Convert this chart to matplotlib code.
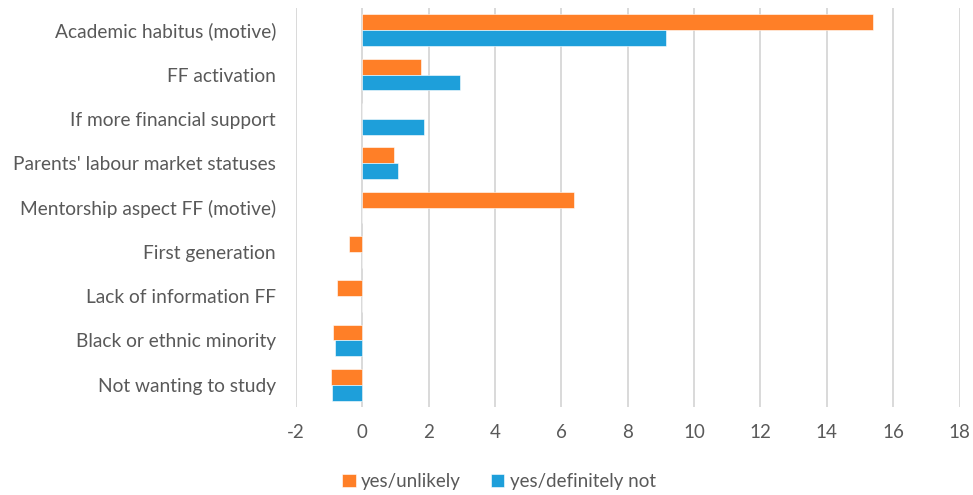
import numpy as np
import matplotlib
matplotlib.use("Agg")
import matplotlib.pyplot as plt

categories = [
    "Academic habitus (motive)",
    "FF activation",
    "If more financial support",
    "Parents' labour market statuses",
    "Mentorship aspect FF (motive)",
    "First generation",
    "Lack of information FF",
    "Black or ethnic minority",
    "Not wanting to study",
]
unlikely = [15.38, 1.76, 0.0, 0.95, 6.39, -0.39, -0.76, -0.87, -0.93]
definitely_not = [9.15, 2.93, 1.87, 1.06, 0.0, 0.0, 0.0, -0.83, -0.92]
xticks = list(range(-2, 19, 2))

ORANGE = "#FF7F27"
BLUE = "#1E9FDA"
TEXT = "#595959"

plt.rcParams["font.family"] = ["Lato", "DejaVu Sans"]

fig = plt.figure(figsize=(9.73, 4.95), dpi=100)
ax = fig.add_axes([0.3042, 0.1778, 0.6820, 0.8060])

y = np.arange(len(categories))
h = 0.36
ax.barh(y - h / 2, unlikely, height=h, color=ORANGE, edgecolor="white",
        linewidth=0.4, label="yes/unlikely", zorder=3)
ax.barh(y + h / 2, definitely_not, height=h, color=BLUE, edgecolor="white",
        linewidth=0.4, label="yes/definitely not", zorder=3)

ax.set_xlim(-2, 18)
ax.set_ylim(len(categories) - 0.5, -0.5)
ax.set_xticks(xticks)
ax.set_xticklabels([str(t) for t in xticks])
ax.set_yticks(y)
ax.set_yticklabels(categories)
ax.tick_params(axis="both", length=0, colors=TEXT)
ax.tick_params(axis="x", pad=12, labelsize=13.5)
ax.tick_params(axis="y", pad=14.4, labelsize=13.8)
ax.grid(axis="x", color="#D9D9D9", linewidth=1.4, zorder=0)
for s in ax.spines.values():
    s.set_visible(False)

fig.legend(loc="center", bbox_to_anchor=(0.513, 0.028), ncol=2, frameon=False,
           fontsize=13.5, labelcolor=TEXT, handlelength=0.7, handleheight=0.7,
           handletextpad=0.3, columnspacing=1.6)

fig.savefig("out.png", dpi=100)
